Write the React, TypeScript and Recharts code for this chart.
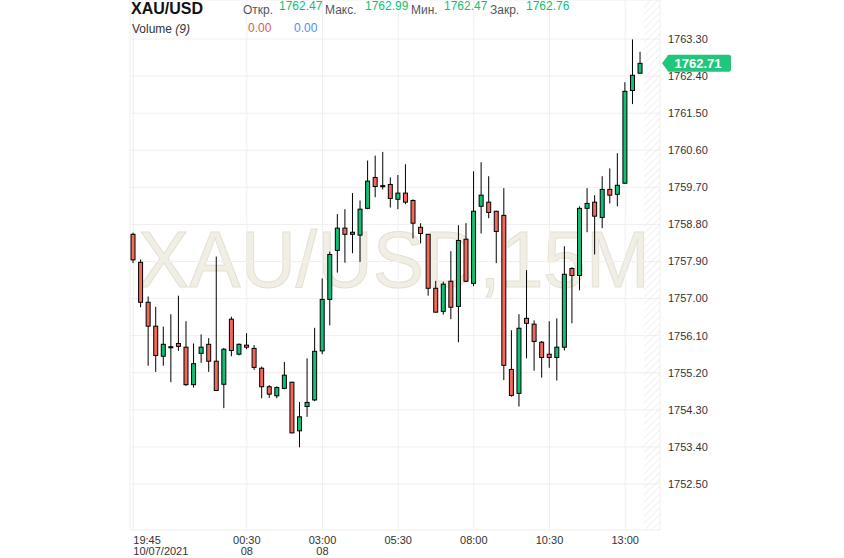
import React from 'react'
import { ComposedChart, Bar, XAxis, YAxis, CartesianGrid, ReferenceArea, ReferenceLine } from 'recharts'

const FONT = '"Liberation Sans", Arial, Helvetica, sans-serif'
const GREEN = '#10bf74'
const RED = '#f2685b'

// 15M candles, 10/07/2021 19:45 -> 08 13:30
const times = [
  '19:45', '20:00', '20:15', '20:30', '20:45', '21:00', '21:15', '21:30', '21:45', '22:00', '22:15', '22:30', '22:45',
  '00:00', '00:15', '00:30', '00:45', '01:00', '01:15', '01:30', '01:45', '02:00', '02:15', '02:30', '02:45',
  '03:00', '03:15', '03:30', '03:45', '04:00', '04:15', '04:30', '04:45', '05:00', '05:15',
  '05:30', '05:45', '06:00', '06:15', '06:30', '06:45', '07:00', '07:15', '07:30', '07:45',
  '08:00', '08:15', '08:30', '08:45', '09:00', '09:15', '09:30', '09:45', '10:00', '10:15',
  '10:30', '10:45', '11:00', '11:15', '11:30', '11:45', '12:00', '12:15', '12:30', '12:45',
  '13:00', '13:15', '13:30',
]

const open = [
  1758.56, 1757.88, 1756.91, 1756.33, 1755.6, 1755.83, 1755.91, 1755.82, 1754.91, 1755.67,
  1755.89, 1755.48, 1754.92, 1756.5, 1755.65, 1755.87, 1755.79, 1755.31, 1754.86, 1754.64,
  1754.82, 1754.97, 1753.79, 1754.38, 1754.54, 1755.73, 1756.98, 1758.17, 1758.71, 1758.56,
  1758.54, 1759.19, 1759.94, 1759.74, 1759.77, 1759.41, 1759.56, 1759.38, 1758.73, 1758.56,
  1757.25, 1756.69, 1757.42, 1756.81, 1758.44, 1757.37, 1759.24, 1759.34, 1759.12, 1759.02,
  1755.28, 1754.7, 1756.52, 1756.38, 1755.94, 1755.65, 1755.57, 1755.82, 1757.73, 1757.56,
  1759.19, 1759.34, 1758.97, 1759.65, 1759.53, 1759.8, 1762.05, 1762.47,
]
const high = [
  1758.6, 1757.95, 1757.05, 1756.8, 1756.32, 1756.62, 1757.07, 1756.45, 1755.91, 1756.13,
  1756.04, 1758.02, 1755.8, 1756.56, 1755.91, 1756.16, 1755.87, 1755.35, 1754.9, 1754.87,
  1755.46, 1754.98, 1754.49, 1755.55, 1756.29, 1757.49, 1758.14, 1759.05, 1759.17, 1759.56,
  1759.38, 1760.35, 1760.47, 1760.56, 1759.94, 1760.0, 1760.26, 1759.41, 1758.83, 1758.57,
  1757.43, 1757.41, 1758.15, 1758.78, 1758.83, 1760.09, 1760.31, 1759.97, 1759.13, 1759.68,
  1756.23, 1756.62, 1757.69, 1756.47, 1755.97, 1756.45, 1756.52, 1758.27, 1757.76, 1759.24,
  1759.68, 1759.51, 1759.97, 1760.16, 1760.53, 1762.25, 1763.29, 1762.99,
]
const low = [
  1757.86, 1756.79, 1755.37, 1755.22, 1755.37, 1754.97, 1755.73, 1754.88, 1754.84, 1755.44,
  1755.22, 1754.76, 1754.34, 1755.6, 1755.62, 1755.77, 1755.27, 1754.58, 1754.59, 1754.58,
  1754.8, 1753.73, 1753.39, 1754.13, 1754.51, 1755.65, 1756.35, 1757.63, 1757.87, 1758.1,
  1757.89, 1759.17, 1759.46, 1759.65, 1759.21, 1759.17, 1759.29, 1758.46, 1758.34, 1757.07,
  1756.66, 1756.61, 1756.5, 1755.94, 1757.4, 1757.3, 1758.58, 1758.95, 1757.86, 1755.02,
  1754.62, 1754.38, 1755.55, 1755.25, 1755.08, 1755.32, 1755.01, 1755.74, 1756.4, 1757.2,
  1758.61, 1758.07, 1758.71, 1759.31, 1759.24, 1759.79, 1761.72, 1762.47,
]
const close = [
  1757.94, 1756.91, 1756.33, 1755.62, 1755.89, 1755.83, 1755.84, 1754.91, 1755.42, 1755.82,
  1755.48, 1754.77, 1755.77, 1755.74, 1755.89, 1755.82, 1755.33, 1754.86, 1754.68, 1754.84,
  1755.14, 1753.74, 1754.13, 1754.48, 1755.72, 1756.98, 1758.07, 1758.71, 1758.56, 1758.61,
  1759.17, 1759.85, 1759.72, 1759.74, 1759.43, 1759.56, 1759.34, 1758.83, 1758.58, 1757.25,
  1756.67, 1757.35, 1756.79, 1758.41, 1757.42, 1759.12, 1759.51, 1759.09, 1758.63, 1755.38,
  1754.65, 1756.28, 1756.4, 1755.96, 1755.57, 1755.57, 1755.82, 1757.59, 1757.56, 1759.19,
  1759.31, 1759.0, 1759.65, 1759.51, 1759.75, 1762.03, 1762.42, 1762.71,
]

const timeTicks = [0, 15, 25, 35, 45, 55, 65]
const dateLabels: Record<number, string> = { 0: '10/07/2021', 15: '08', 25: '08' }
const priceTicks = [1752.5, 1753.4, 1754.3, 1755.2, 1756.1, 1757.0, 1757.9, 1758.8, 1759.7, 1760.6, 1761.5, 1762.4, 1763.3]
const lastPrice = 1762.71

const header = { open: '1762.47', high: '1762.99', low: '1762.47', close: '1762.76' }

const data = times.map((t, i) => ({
  i,
  time: t,
  open: open[i],
  high: high[i],
  low: low[i],
  close: close[i],
  range: [low[i], high[i]],
}))

function Candle(props: any) {
  const { x, y, width, height, payload } = props
  if (!payload || x == null) return null
  const top = Math.min(y, y + height)
  const h = Math.abs(height)
  const span = payload.high - payload.low || 1
  const toY = (v: number) => top + ((payload.high - v) / span) * h
  const cx = x + width / 2
  const yO = toY(payload.open)
  const yC = toY(payload.close)
  const flat = payload.open === payload.close
  const fill = flat ? '#000' : payload.close > payload.open ? GREEN : RED
  const bTop = Math.min(yO, yC)
  const bH = Math.max(Math.abs(yO - yC), 1)
  return (
    <g>
      <line x1={cx} x2={cx} y1={top} y2={top + h} stroke="#000" strokeWidth={1} />
      <rect x={cx - 2} y={bTop} width={4} height={bH} fill={fill} stroke="#000" strokeWidth={1} />
    </g>
  )
}

function TimeTick(props: any) {
  const { x, y, payload } = props
  const idx = payload.value
  const date = dateLabels[idx]
  return (
    <text x={x} y={y} textAnchor={idx === 0 ? 'start' : 'middle'} fontSize={11} fill="#333" fontFamily={FONT}>
      <tspan x={x} dy={6}>{times[idx]}</tspan>
      {date && <tspan x={x} dy={11}>{date}</tspan>}
    </text>
  )
}

function PriceTag(props: any) {
  const vb = props.viewBox || {}
  const right = vb.x + vb.width
  const yy = vb.y
  const tip = right + 2
  const l = tip + 5
  const r = l + 64
  const t = yy - 8.5
  const b = yy + 8.5
  return (
    <g>
      <path
        d={`M${tip},${yy} L${l},${t + 2} Q${l},${t} ${l + 2},${t} L${r - 2},${t} Q${r},${t} ${r},${t + 2} L${r},${b - 2} Q${r},${b} ${r - 2},${b} L${l + 2},${b} Q${l},${b} ${l},${b - 2} Z`}
        fill="#1fc67b"
      />
      <text x={(l + r) / 2 - 1} y={yy + 4.5} textAnchor="middle" fontSize={13} fontWeight="bold" fill="#fff" fontFamily={FONT}>
        {lastPrice.toFixed(2)}
      </text>
    </g>
  )
}

export default function App() {
  return (
    <div style={{ position: 'absolute', left: 0, top: 0, width: 844, height: 558, background: '#fff', fontFamily: FONT }}>
      <svg width={844} height={558} style={{ position: 'absolute', left: 0, top: 0 }}>
        <text x={138} y={287} fontSize={80} textLength={512} lengthAdjust="spacingAndGlyphs" fill="#f1eee6" stroke="#e4e0d3" strokeWidth={1} fontFamily={FONT}>
          XAU/USD,15M
        </text>
      </svg>
      <div style={{ position: 'absolute', left: 0, top: 0 }}>
        <ComposedChart width={844} height={558} data={data} margin={{ top: 0, right: 124, bottom: 0, left: 130 }}>
          <defs>
            <pattern id="hatch" width="5" height="5" patternUnits="userSpaceOnUse" patternTransform="rotate(45)">
              <line x1="0" y1="0" x2="0" y2="5" stroke="#e4e4e4" strokeWidth="1" />
            </pattern>
          </defs>
          <CartesianGrid stroke="#efefef" />
          <XAxis
            type="number"
            dataKey="i"
            domain={[-0.436, 69.6]}
            ticks={timeTicks}
            interval={0}
            axisLine={false}
            tickLine={false}
            height={28}
            tick={<TimeTick />}
            allowDataOverflow
          />
          <YAxis
            orientation="right"
            width={60}
            domain={[1751.383, 1764.247]}
            ticks={priceTicks}
            interval={0}
            axisLine={false}
            tickLine={false}
            tickFormatter={(v: number) => v.toFixed(2)}
            tick={{ fontSize: 11, fill: '#333', fontFamily: FONT }}
            allowDataOverflow
          />
          <ReferenceArea x1={67.5} x2={69.6} fill="url(#hatch)" fillOpacity={1} stroke="none" ifOverflow="visible" />
          <Bar dataKey="range" barSize={5} isAnimationActive={false} shape={(p: any) => <Candle {...p} />} />
          <ReferenceLine y={lastPrice} stroke="none" label={<PriceTag />} />
        </ComposedChart>
      </div>
      <svg width={844} height={40} style={{ position: 'absolute', left: 0, top: 0, pointerEvents: 'none' }} fontFamily={FONT}>
        <text x={131} y={14} fontSize={16} fontWeight="bold" fill="#111">XAU/USD</text>
        <text x={243} y={13.5} fontSize={12} fill="#555">Откр.</text>
        <text x={279} y={10} fontSize={12} fill={GREEN}>{header.open}</text>
        <text x={325} y={13.5} fontSize={12} fill="#555">Макс.</text>
        <text x={365} y={10} fontSize={12} fill={GREEN}>{header.high}</text>
        <text x={411} y={13.5} fontSize={12} fill="#555">Мин.</text>
        <text x={444} y={10} fontSize={12} fill={GREEN}>{header.low}</text>
        <text x={490} y={13.5} fontSize={12} fill="#555">Закр.</text>
        <text x={526} y={10} fontSize={12} fill={GREEN}>{header.close}</text>
        <text x={132} y={33} fontSize={12} fill="#333">
          Volume <tspan fontStyle="italic">(9)</tspan>
        </text>
        <text x={248} y={31.5} fontSize={12} fill="#e0564b">0.00</text>
        <text x={294} y={31.5} fontSize={12} fill="#4d8ff0">0.00</text>
      </svg>
    </div>
  )
}
